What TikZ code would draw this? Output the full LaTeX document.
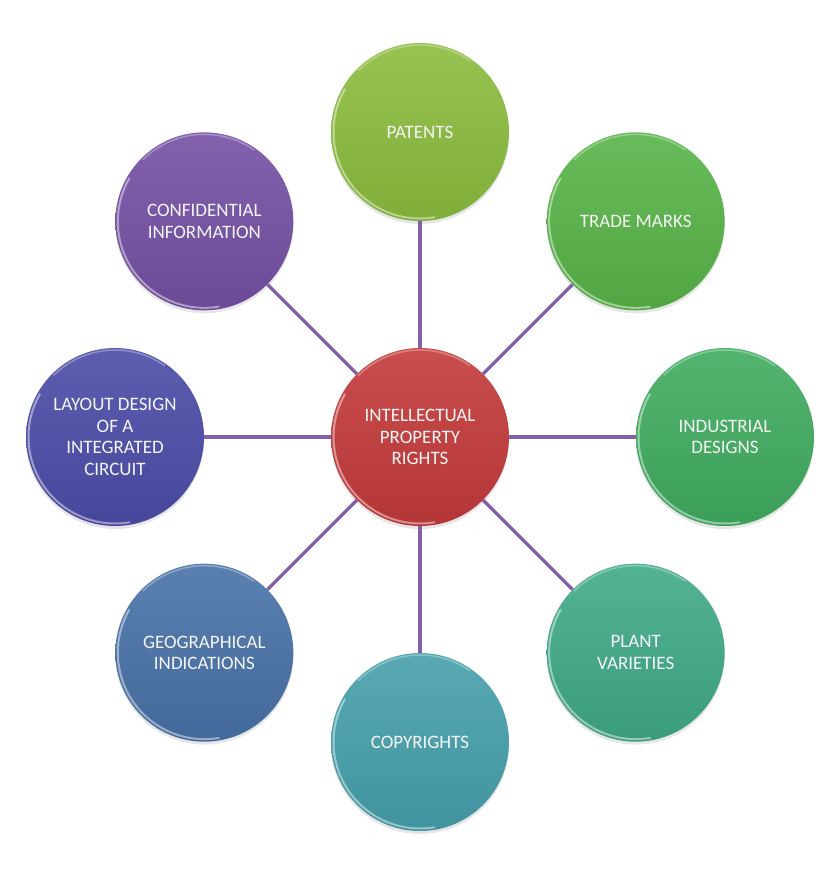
\documentclass[tikz,border=0pt]{standalone}
\usepackage{fontspec}
\setmainfont{Carlito}
\usetikzlibrary{trees,shadows}

\definecolor{iprred}{RGB}{196,58,58}
\definecolor{patgreen}{RGB}{140,188,62}
\definecolor{markgreen}{RGB}{88,180,72}
\definecolor{designgreen}{RGB}{64,172,96}
\definecolor{plantteal}{RGB}{64,170,136}
\definecolor{copyteal}{RGB}{70,160,172}
\definecolor{geoblue}{RGB}{72,114,168}
\definecolor{layoutblue}{RGB}{76,76,168}
\definecolor{confpurple}{RGB}{116,80,164}
\definecolor{linkpurple}{RGB}{130,96,170}

\tikzset{
  bubble/.style={
    top color=#1!90!white, bottom color=#1!92!black,
    path picture={
      \draw[white,opacity=.45,line width=2pt]
        ([shift={(150:86.5pt)}]path picture bounding box.center)
        arc[start angle=150,end angle=280,radius=86.5pt];
      \draw[white,opacity=.3,line width=1.5pt]
        ([shift={(55:87pt)}]path picture bounding box.center)
        arc[start angle=55,end angle=135,radius=87pt];
    }
  }
}

\begin{document}
\begin{tikzpicture}[
  x=1pt, y=1pt,
  level distance=305pt,
  every node/.style={circle,minimum size=178pt,inner sep=0pt,align=center,
    text=white!92!gray,font=\fontsize{19}{21.5}\selectfont,
    drop shadow={opacity=.2,shadow xshift=0pt,shadow yshift=-3pt}},
  edge from parent/.style={draw=linkpurple,line width=3.2pt}
]
  \useasboundingbox (0,0) rectangle (840,895);
  \node[bubble=iprred] (ipr) at (420,458) {INTELLECTUAL\\PROPERTY\\RIGHTS}
    [clockwise from=90,sibling angle=45]
    child {node[bubble=patgreen] (patents) {PATENTS}}
    child {node[bubble=markgreen] (marks) {TRADE MARKS}}
    child {node[bubble=designgreen] (designs) {INDUSTRIAL\\DESIGNS}}
    child {node[bubble=plantteal] (plants) {PLANT\\VARIETIES}}
    child {node[bubble=copyteal] (copyrights) {COPYRIGHTS}}
    child {node[bubble=geoblue] (geo) {GEOGRAPHICAL\\INDICATIONS}}
    child {node[bubble=layoutblue] (layout) {LAYOUT DESIGN\\OF A\\INTEGRATED\\CIRCUIT}}
    child {node[bubble=confpurple] (confidential) {CONFIDENTIAL\\INFORMATION}};
\end{tikzpicture}
\end{document}
